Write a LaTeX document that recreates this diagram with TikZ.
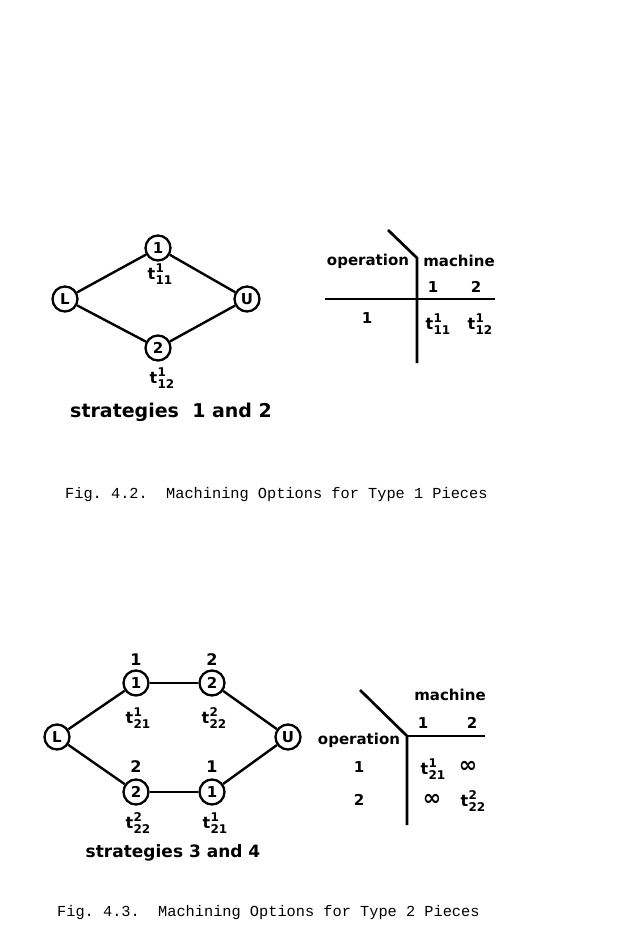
\documentclass[tikz,border=0pt]{standalone}
\usepackage{fontspec}
\newfontfamily\lett{DejaVu Sans}
\newfontfamily\capfont{Liberation Mono}
\newcommand{\tlab}[2]{t\kern0.3pt\makebox[0pt][l]{\raisebox{0.45em}{\fontsize{12}{12}\selectfont #1}}\raisebox{-0.3em}{\fontsize{12}{12}\selectfont #2}}
\newcommand{\infsym}{{\fontsize{22}{22}\selectfont ∞}}
\tikzset{
  vert/.style={circle, draw, line width=2.3pt, minimum size=25pt, inner sep=0pt, font=\lett\bfseries\fontsize{15}{15}\selectfont},
  edge/.style={line width=2.4pt},
  hedge/.style={line width=1.7pt},
  tabline/.style={line width=2.7pt},
  lab/.style={font=\lett\bfseries\fontsize{16}{16}\selectfont, inner sep=0pt},
  tablab/.style={font=\lett\bfseries\fontsize{15}{15}\selectfont, inner sep=0pt},
  strat/.style={font=\lett\bfseries\fontsize{17}{17}\selectfont, inner sep=0pt},
  figcap/.style={font=\capfont\fontsize{15.3}{16}\selectfont, inner sep=0pt, anchor=west}
}
\begin{document}
\begin{tikzpicture}[x=1pt, y=-1pt]
\path[use as bounding box] (0,0) rectangle (636,931);
% ---------- Fig 4.2 graph
\node[vert] (L1) at (65,299) {L};
\node[vert] (N11) at (158,248) {1};
\node[vert] (N12) at (158,348) {2};
\node[vert] (U1) at (247,299) {U};
\draw[edge] (L1) -- (N11);
\draw[edge] (N11) -- (U1);
\draw[edge] (L1) -- (N12);
\draw[edge] (N12) -- (U1);
\node[lab] (t11a) at (160,274) {\tlab{1}{11}};
\node[lab] (t12a) at (162,378) {\tlab{1}{12}};
\node[strat, anchor=west, font=\lett\bfseries\fontsize{19}{19}\selectfont] (s12) at (70,412) {strategies~~1 and 2};
% ---------- Fig 4.2 table
\coordinate (d1a) at (388,230);
\coordinate (d1b) at (417,258);
\coordinate (v1b) at (417,363);
\coordinate (h1a) at (325,299);
\coordinate (h1b) at (495,299);
\draw[tabline] (d1a) -- (d1b) -- (v1b);
\draw[tabline] (h1a) -- (h1b);
\node[tablab] (op1) at (368,261) {operation};
\node[tablab] (ma1) at (459,261) {machine};
\node[tablab] (m11) at (433,287) {1};
\node[tablab] (m12) at (476,287) {2};
\node[tablab] (r11) at (367,318) {1};
\node[lab] (c11) at (438,324) {\tlab{1}{11}};
\node[lab] (c12) at (480,324) {\tlab{1}{12}};
\node[figcap] (cap1) at (65,495) {Fig.~4.2.~~Machining~Options~for~Type~1~Pieces};
% ---------- Fig 4.3 graph
\node[vert] (L2) at (57,737) {L};
\node[vert] (A) at (136,683) {1};
\node[vert] (B) at (212,683) {2};
\node[vert] (U2) at (288,737) {U};
\node[vert] (C) at (136,792) {2};
\node[vert] (D) at (212,792) {1};
\draw[edge] (L2) -- (A);
\draw[hedge] (A) -- (B);
\draw[edge] (B) -- (U2);
\draw[edge] (L2) -- (C);
\draw[hedge] (C) -- (D);
\draw[edge] (D) -- (U2);
\node[lab] (la) at (136,660) {1};
\node[lab] (lb) at (212,660) {2};
\node[lab] (lc) at (136,767) {2};
\node[lab] (ld) at (212,767) {1};
\node[lab] (ta) at (138,718) {\tlab{1}{21}};
\node[lab] (tb) at (214,718) {\tlab{2}{22}};
\node[lab] (tc) at (138,823) {\tlab{2}{22}};
\node[lab] (td) at (215,823) {\tlab{1}{21}};
\node[strat] (s34) at (173,853) {strategies 3 and 4};
% ---------- Fig 4.3 table
\coordinate (d2a) at (360,690);
\coordinate (d2b) at (407,736);
\coordinate (v2b) at (407,825);
\coordinate (h2b) at (485,736);
\draw[tabline] (d2a) -- (d2b) -- (v2b);
\draw[tabline] (d2b) -- (h2b);
\node[tablab] (ma2) at (450,695) {machine};
\node[tablab] (m21) at (423,723) {1};
\node[tablab] (m22) at (472,723) {2};
\node[tablab] (op2) at (359,740) {operation};
\node[tablab] (r21) at (359,767) {1};
\node[tablab] (r22) at (359,800) {2};
\node[lab] (c211) at (433,769) {\tlab{1}{21}};
\node[tablab] (c212) at (468,767) {\infsym};
\node[tablab] (c221) at (432,800) {\infsym};
\node[lab] (c222) at (473,801) {\tlab{2}{22}};
\node[figcap] (cap2) at (57,913) {Fig.~4.3.~~Machining~Options~for~Type~2~Pieces};
\end{tikzpicture}
\end{document}
